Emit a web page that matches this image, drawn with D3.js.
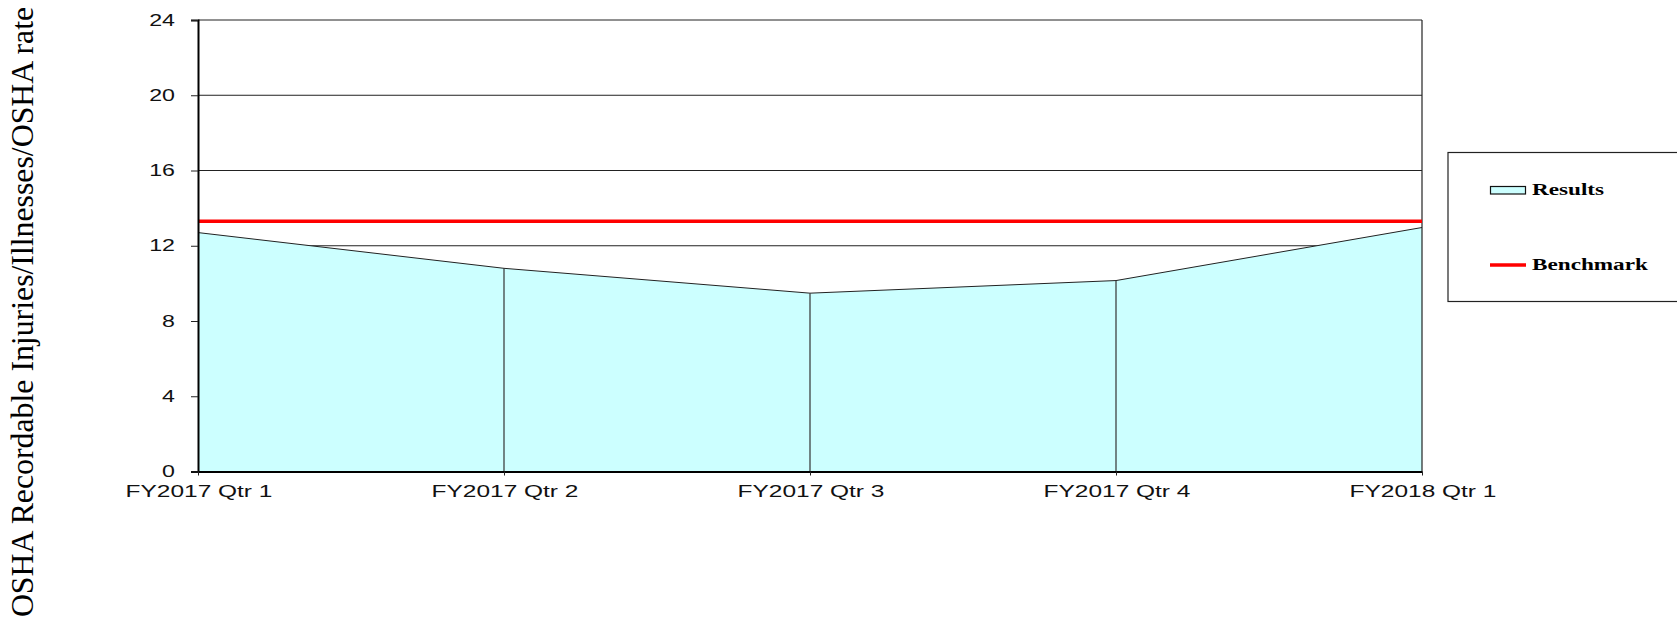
<!DOCTYPE html>
<html>
<head>
<meta charset="utf-8">
<script src="https://cdn.jsdelivr.net/npm/d3@7"></script>
<style>
  body { margin: 0; background: #fff; }
  svg { display: block; }
</style>
</head>
<body>
<div id="chart"></div>
<script>
'use strict'

// data
const quarters = ['FY2017 Qtr 1', 'FY2017 Qtr 2', 'FY2017 Qtr 3', 'FY2017 Qtr 4', 'FY2018 Qtr 1']
const results = [12.7, 10.8, 9.48, 10.15, 12.97]
const benchmark = [13.3, 13.3, 13.3, 13.3, 13.3]
const yTicks = [0, 4, 8, 12, 16, 20, 24]
const legendLabels = ['Results', 'Benchmark']

const width = 1677
const height = 623
const stretch = 1.45
const xStretch = 1.53

const svg = d3.select('#chart').append('svg')
  .attr('width', width)
  .attr('height', height)

const x = d3.scalePoint()
  .domain(quarters)
  .range([198, 1422])
const y = d3.scaleLinear()
  .domain([0, 24])
  .range([471.5, 20])

const data = quarters.map(function (q, i) { return {q: q, r: results[i], b: benchmark[i]} })

// gridlines
svg.append('g')
  .selectAll('line')
  .data(yTicks.filter(function (d) { return d > 0 }))
  .enter().append('line')
  .attr('x1', x.range()[0])
  .attr('x2', x.range()[1])
  .attr('y1', function (d) { return y(d) })
  .attr('y2', function (d) { return y(d) })
  .attr('stroke', '#222')
  .attr('stroke-width', 1)

// area of results
const area = d3.area()
  .x(function (d) { return x(d.q) })
  .y0(y(0))
  .y1(function (d) { return y(d.r) })
svg.append('path')
  .datum(data)
  .attr('d', area)
  .attr('fill', '#ccffff')
const line = d3.line()
  .x(function (d) { return x(d.q) })
  .y(function (d) { return y(d.r) })
svg.append('path')
  .datum(data)
  .attr('d', line)
  .attr('fill', 'none')
  .attr('stroke', '#222')
  .attr('stroke-width', 1)

// drop lines between the quarters
svg.append('g')
  .selectAll('line')
  .data(data.slice(1, -1))
  .enter().append('line')
  .attr('x1', function (d) { return x(d.q) })
  .attr('x2', function (d) { return x(d.q) })
  .attr('y1', function (d) { return y(d.r) })
  .attr('y2', y(0))
  .attr('stroke', '#333')
  .attr('stroke-width', 1.2)

// right border
svg.append('line')
  .attr('x1', x.range()[1]).attr('x2', x.range()[1])
  .attr('y1', y(24)).attr('y2', y(0))
  .attr('stroke', '#222')
  .attr('stroke-width', 1.2)

// benchmark line
const bline = d3.line()
  .x(function (d) { return x(d.q) })
  .y(function (d) { return y(d.b) })
svg.append('path')
  .datum(data)
  .attr('d', bline)
  .attr('fill', 'none')
  .attr('stroke', '#ff0000')
  .attr('stroke-width', 3.5)

// y axis
const yAxis = svg.append('g')
  .attr('transform', 'translate(198,0)')
  .call(d3.axisLeft(y).tickValues(yTicks).tickSize(7).tickFormat(''))
yAxis.select('.domain').attr('stroke', '#000').attr('stroke-width', 2)
yAxis.selectAll('.tick line').attr('stroke', '#222')
svg.append('g')
  .selectAll('text')
  .data(yTicks)
  .enter().append('text')
  .attr('transform', function (d) { return 'translate(175,' + (y(d) + 5.5) + ') scale(' + stretch + ',1)' })
  .attr('text-anchor', 'end')
  .attr('font-family', 'Liberation Sans, Arial, sans-serif')
  .attr('font-size', 16)
  .attr('fill', '#111')
  .text(function (d) { return d })

// x axis
const xAxis = svg.append('g')
  .attr('transform', 'translate(0,' + y(0) + ')')
  .call(d3.axisBottom(x).tickSize(4).tickSizeOuter(0).tickFormat(''))
xAxis.select('.domain').attr('stroke', '#000').attr('stroke-width', 2)
xAxis.selectAll('.tick line').attr('stroke', '#222')
svg.append('g')
  .selectAll('text')
  .data(quarters)
  .enter().append('text')
  .attr('transform', function (d) { return 'translate(' + (x(d) + 1) + ',497) scale(' + xStretch + ',1)' })
  .attr('text-anchor', 'middle')
  .attr('font-family', 'Liberation Sans, Arial, sans-serif')
  .attr('font-size', 16)
  .attr('fill', '#111')
  .text(function (d) { return d })

// y axis title
svg.append('text')
  .attr('transform', 'translate(33,312) rotate(-90)')
  .attr('text-anchor', 'middle')
  .attr('font-family', 'Liberation Serif, Times New Roman, serif')
  .attr('font-size', 31.8)
  .attr('fill', '#000')
  .text('OSHA Recordable Injuries/Illnesses/OSHA rate')

// legend
const legend = svg.append('g')
legend.append('rect')
  .attr('x', 1448)
  .attr('y', 152.5)
  .attr('width', 260)
  .attr('height', 149)
  .attr('fill', '#fff')
  .attr('stroke', '#222')
  .attr('stroke-width', 1.2)
legend.append('rect')
  .attr('x', 1490.5)
  .attr('y', 186.5)
  .attr('width', 35)
  .attr('height', 7.5)
  .attr('fill', '#ccffff')
  .attr('stroke', '#111')
  .attr('stroke-width', 1.2)
legend.append('line')
  .attr('x1', 1490)
  .attr('x2', 1526)
  .attr('y1', 265)
  .attr('y2', 265)
  .attr('stroke', '#ff0000')
  .attr('stroke-width', 3.5)
legend.selectAll('text.leg')
  .data(legendLabels)
  .enter().append('text')
  .attr('class', 'leg')
  .attr('transform', function (d, i) { return 'translate(1532,' + (i === 0 ? 195 : 270) + ') scale(' + stretch + ',1)' })
  .attr('font-family', 'Liberation Serif, Times New Roman, serif')
  .attr('font-weight', 'bold')
  .attr('font-size', 16)
  .attr('fill', '#000')
  .text(function (d) { return d })
</script>
</body>
</html>
